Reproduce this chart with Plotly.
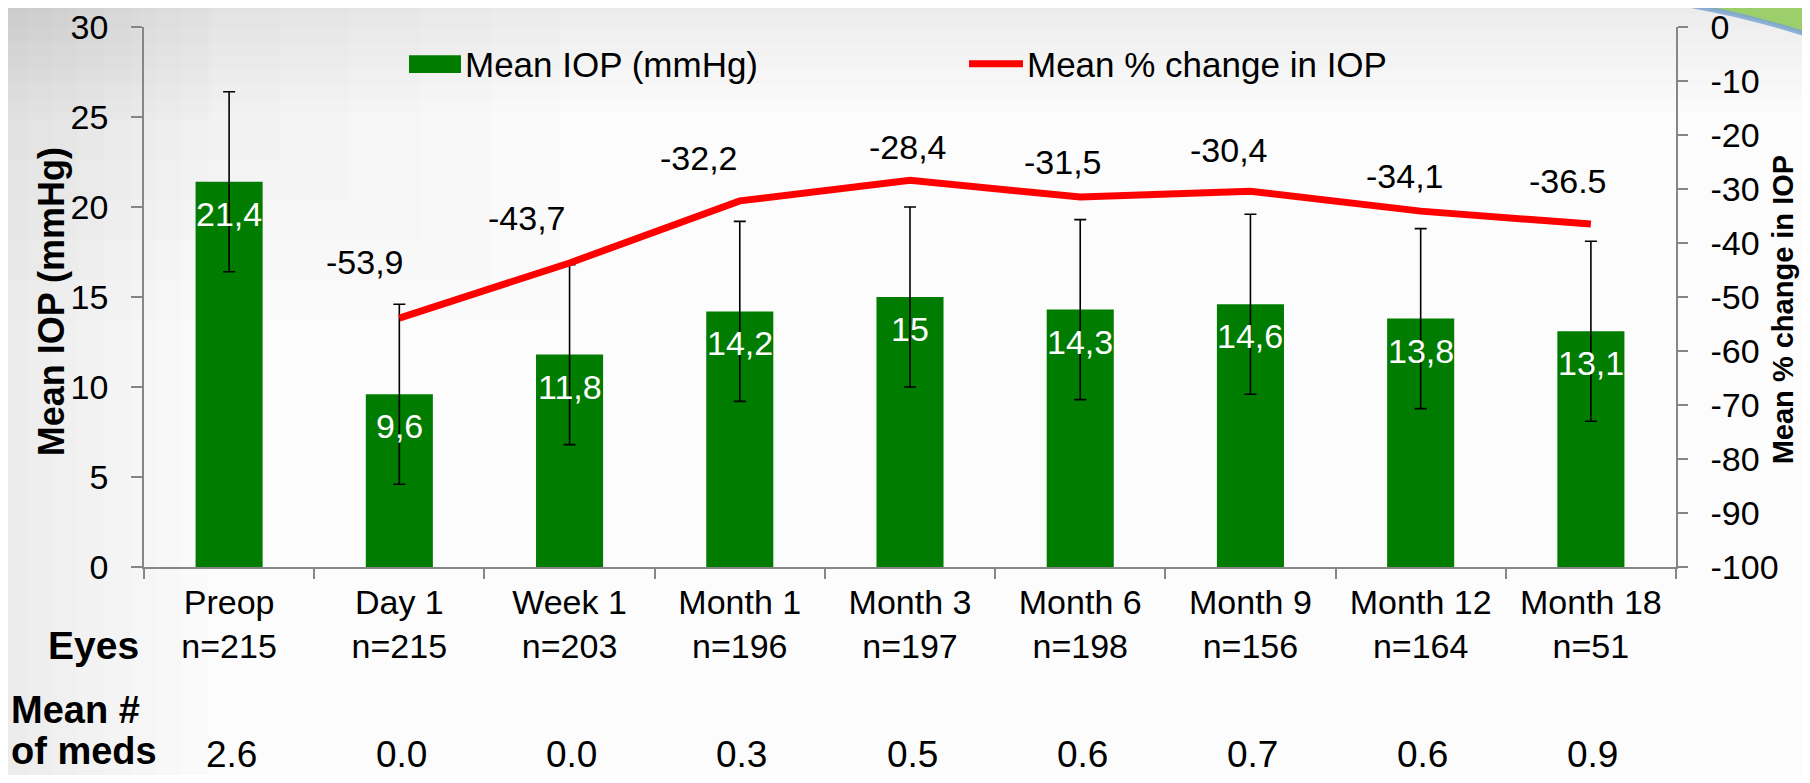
import plotly.graph_objects as go

# ---------------- data ----------------
categories = ["Preop", "Day 1", "Week 1", "Month 1", "Month 3", "Month 6", "Month 9", "Month 12", "Month 18"]
eyes_n = [215, 215, 203, 196, 197, 198, 156, 164, 51]
mean_iop = [21.4, 9.6, 11.8, 14.2, 15.0, 14.3, 14.6, 13.8, 13.1]
iop_sd = [5.0, 5.0, 5.0, 5.0, 5.0, 5.0, 5.0, 5.0, 5.0]
iop_labels = ["21,4", "9,6", "11,8", "14,2", "15", "14,3", "14,6", "13,8", "13,1"]
pct_change = [None, -53.9, -43.7, -32.2, -28.4, -31.5, -30.4, -34.1, -36.5]
pct_labels = ["", "-53,9", "-43,7", "-32,2", "-28,4", "-31,5", "-30,4", "-34,1", "-36.5"]
mean_meds = ["2.6", "0.0", "0.0", "0.3", "0.5", "0.6", "0.7", "0.6", "0.9"]
y1_ticks = [0, 5, 10, 15, 20, 25, 30]
y2_ticks = [0, -10, -20, -30, -40, -50, -60, -70, -80, -90, -100]
y2_tick_labels = ["0", "-10", "-20", "-30", "-40", "-50", "-60", "-70", "-80", "-90", "-100"]

# ---------------- layout geometry / styles ----------------
PAGE_W, PAGE_H = 1810, 783
OFF = 8                                   # default body margin of the html page
W, H = PAGE_W - 2 * OFF, PAGE_H - 2 * OFF
L, R, T, B = 144, 1676, 26.7, 566.7       # plot area in page pixels
FONT = "Liberation Sans, Arial, sans-serif"
GREEN = "#007c00"
RED = "#ff0000"
AXC = "#868686"


def px(x):
    return (x - L) / (R - L)


def py(y):
    return (B - y) / (B - T)


# label offsets (style) for % change labels: (xshift, yshift)
pct_offsets = [(0, 0), (-34, 56), (-43, 45), (-41, 43), (-2, 33), (-17, 35), (-21, 41), (-16, 35), (-23, 43)]

fig = go.Figure()

fig.add_trace(go.Bar(
    x=categories, y=mean_iop, name="Mean IOP (mmHg)",
    marker=dict(color=GREEN, line=dict(width=0)),
    error_y=dict(type="data", array=iop_sd, color="black", thickness=1.6, width=6),
    showlegend=False,
))

fig.add_trace(go.Scatter(
    x=categories, y=pct_change, yaxis="y2", name="Mean % change in IOP",
    mode="lines", line=dict(color=RED, width=7),
    showlegend=False,
))

annotations = []
# bar value labels
for c, v, t in zip(categories, mean_iop, iop_labels):
    annotations.append(dict(x=c, y=v, xref="x", yref="y", text=t, showarrow=False,
                            yanchor="middle", yshift=-32,
                            font=dict(family=FONT, size=34, color="white")))
# % change labels
for c, v, t, (dx, dy) in zip(categories, pct_change, pct_labels, pct_offsets):
    if v is None:
        continue
    annotations.append(dict(x=c, y=v, xref="x", yref="y2", text=t, showarrow=False,
                            yanchor="middle", xshift=dx, yshift=dy,
                            font=dict(family=FONT, size=34, color="black")))
# mean # of meds row
for c, m in zip(categories, mean_meds):
    annotations.append(dict(x=c, y=py(754), xref="x", yref="paper", text=m, showarrow=False,
                            yanchor="middle", xshift=2,
                            font=dict(family=FONT, size=37, color="black")))
# row headers
annotations.append(dict(x=px(93), y=py(645), xref="paper", yref="paper", text="<b>Eyes</b>",
                        showarrow=False, xanchor="center", yanchor="middle",
                        font=dict(family=FONT, size=39, color="black")))
annotations.append(dict(x=px(9), y=py(710), xref="paper", yref="paper", text="<b>Mean #</b>",
                        showarrow=False, xanchor="left", yanchor="middle",
                        font=dict(family=FONT, size=38, color="black")))
annotations.append(dict(x=px(9), y=py(751), xref="paper", yref="paper", text="<b>of meds</b>",
                        showarrow=False, xanchor="left", yanchor="middle",
                        font=dict(family=FONT, size=38, color="black")))
# axis titles
annotations.append(dict(x=px(51), y=py(302), xref="paper", yref="paper", text="<b>Mean IOP (mmHg)</b>",
                        textangle=-90, showarrow=False, xanchor="center", yanchor="middle",
                        font=dict(family=FONT, size=36, color="black")))
annotations.append(dict(x=px(1783), y=py(310), xref="paper", yref="paper", text="<b>Mean % change in IOP</b>",
                        textangle=-90, showarrow=False, xanchor="center", yanchor="middle",
                        font=dict(family=FONT, size=29, color="black")))
# manual legend texts
annotations.append(dict(x=px(463), y=py(64), xref="paper", yref="paper", text="Mean IOP (mmHg)",
                        showarrow=False, xanchor="left", yanchor="middle",
                        font=dict(family=FONT, size=35, color="black")))
annotations.append(dict(x=px(1025), y=py(64), xref="paper", yref="paper", text="Mean % change in IOP",
                        showarrow=False, xanchor="left", yanchor="middle",
                        font=dict(family=FONT, size=35, color="black")))

shapes = []
# background vignette (left and top edges)
for i in range(1, 9):
    shapes.append(dict(type="rect", xref="paper", yref="paper", layer="below",
                       x0=px(0), x1=px(26 * i), y0=py(PAGE_H), y1=py(0),
                       fillcolor="rgba(0,0,0,0.007)", line=dict(width=0)))
    shapes.append(dict(type="rect", xref="paper", yref="paper", layer="below",
                       x0=px(0), x1=px(PAGE_W), y0=py(14 * i), y1=py(0),
                       fillcolor="rgba(0,0,0,0.006)", line=dict(width=0)))
    shapes.append(dict(type="rect", xref="paper", yref="paper", layer="below",
                       x0=px(0), x1=px(70 * i), y0=py(40 * i), y1=py(0),
                       fillcolor="rgba(0,0,0,0.006)", line=dict(width=0)))
# green swoosh, top right
path = "M {:.4f},{:.4f} Q {:.4f},{:.4f} {:.4f},{:.4f} L {:.4f},{:.4f} Z".format(
    px(1645), py(-2), px(1735), py(10), px(1812), py(36), px(1812), py(-2))
shapes.append(dict(type="path", xref="paper", yref="paper", path=path, layer="above",
                   fillcolor="#9ccf6c", line=dict(color="rgba(125,165,210,0.85)", width=5)))
# manual legend symbols
shapes.append(dict(type="rect", xref="paper", yref="paper",
                   x0=px(409), x1=px(461), y0=py(72.7), y1=py(55),
                   fillcolor=GREEN, line=dict(width=0)))
shapes.append(dict(type="line", xref="paper", yref="paper",
                   x0=px(969), x1=px(1023), y0=py(63.5), y1=py(63.5),
                   line=dict(color=RED, width=7)))

fig.update_layout(
    width=W, height=H,
    margin=dict(l=L - OFF, r=(W + OFF) - R, t=T - OFF, b=(H + OFF) - B, pad=0, autoexpand=False),
    paper_bgcolor="#fcfcfc", plot_bgcolor="rgba(0,0,0,0)",
    font=dict(family=FONT, size=33, color="black"),
    bargap=0.606,
    showlegend=False,
    xaxis=dict(
        type="category", tickmode="array", tickvals=categories,
        ticktext=[f"{c}<br>n={n}" for c, n in zip(categories, eyes_n)],
        tickson="boundaries", ticks="outside", ticklen=10, tickcolor=AXC, tickwidth=1.5,
        showline=True, linecolor=AXC, linewidth=1.5, showgrid=False,
        tickfont=dict(family=FONT, size=34, color="black"), ticklabelstandoff=4,
    ),
    yaxis=dict(
        range=[0, 30], tickmode="array", tickvals=y1_ticks,
        ticks="outside", ticklen=11, tickcolor=AXC, tickwidth=1.5,
        showline=True, linecolor=AXC, linewidth=1.5, showgrid=False, zeroline=False,
        tickfont=dict(family=FONT, size=34, color="black"), ticklabelstandoff=16,
        ticklabeloverflow="allow",
    ),
    yaxis2=dict(
        range=[-100, 0], tickmode="array", tickvals=y2_ticks, ticktext=y2_tick_labels,
        overlaying="y", side="right",
        ticks="outside", ticklen=10, tickcolor=AXC, tickwidth=1.5,
        showline=True, linecolor=AXC, linewidth=1.5, showgrid=False, zeroline=False,
        tickfont=dict(family=FONT, size=34, color="black"), ticklabelstandoff=16,
        ticklabeloverflow="allow",
    ),
    annotations=annotations,
    shapes=shapes,
)

fig.write_html("out.html")
